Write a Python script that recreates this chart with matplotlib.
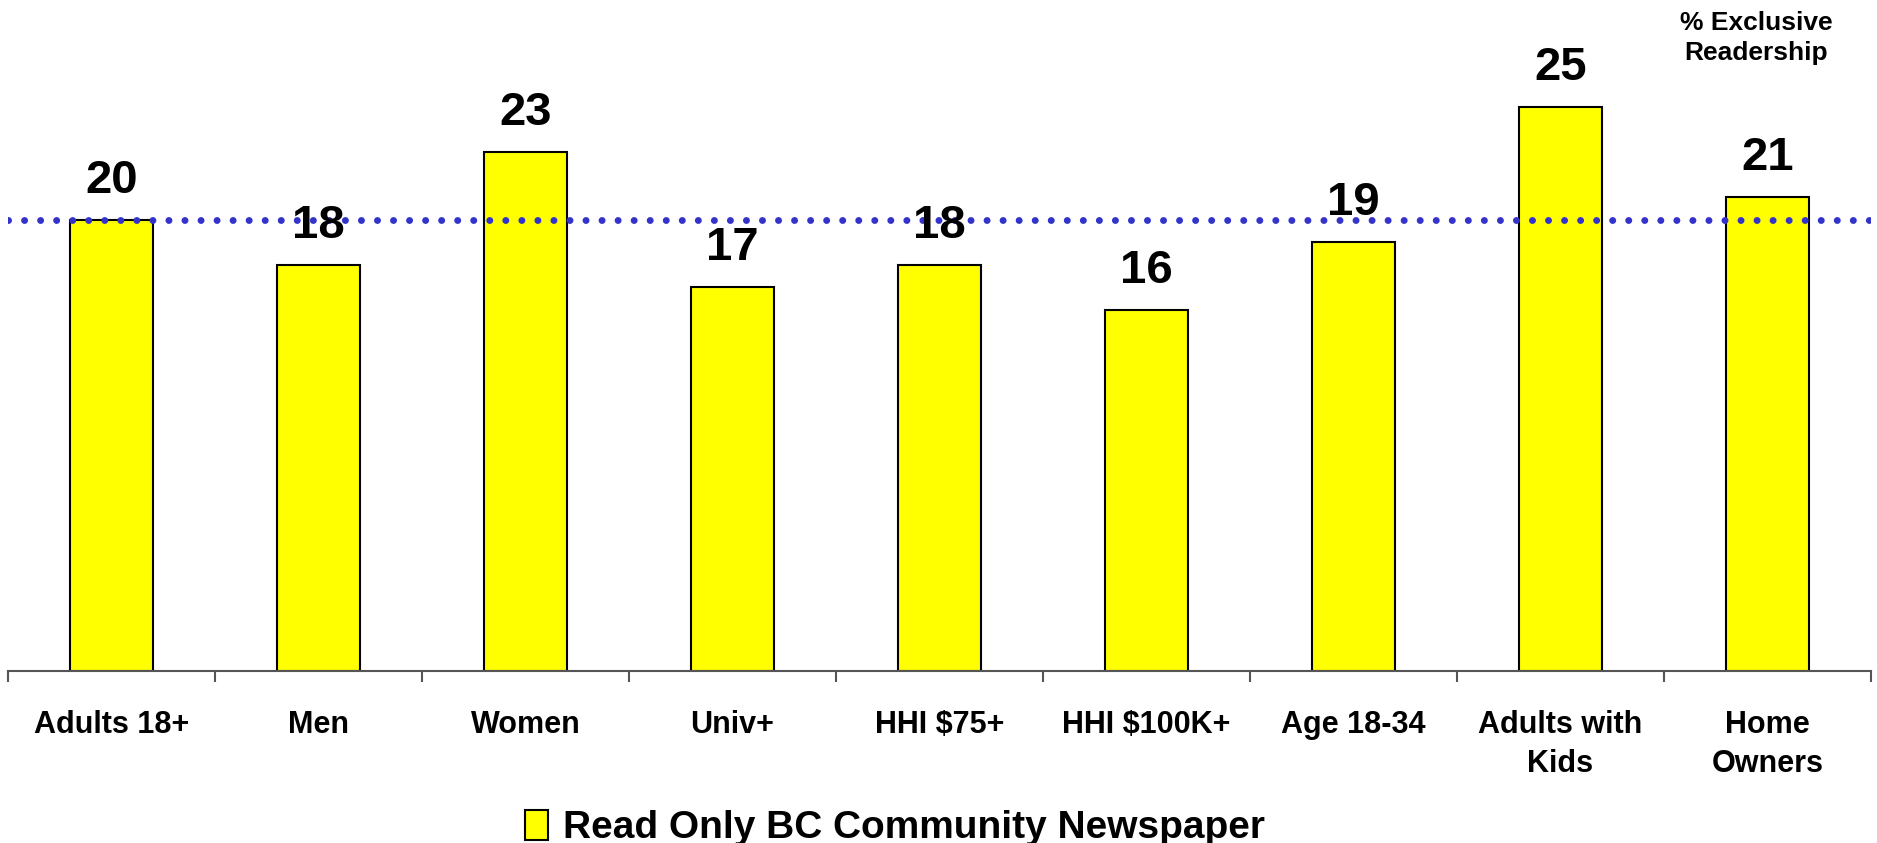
import matplotlib
matplotlib.use("Agg")
import matplotlib.pyplot as plt
from matplotlib.patches import Patch

categories = ["Adults 18+", "Men", "Women", "Univ+", "HHI $75+", "HHI $100K+",
              "Age 18-34", "Adults with\nKids", "Home\nOwners"]
values = [20, 18, 23, 17, 18, 16, 19, 25, 21]
reference_value = 20
series_name = "Read Only BC Community Newspaper"
corner_note = "% Exclusive\nReadership"

plt.rcParams['font.family'] = ['Liberation Sans', 'DejaVu Sans']
plt.rcParams['font.weight'] = 'bold'

W, H = 1877, 843
fig = plt.figure(figsize=(W / 100, H / 100), dpi=100)
ax = fig.add_axes([8 / W, (H - 671) / H, 1863 / W, 670 / H])

x = list(range(len(categories)))
ax.bar(x, values, width=0.405, color='#FFFF00', edgecolor='black', linewidth=1.5, zorder=2)
ax.set_xlim(-0.5, len(categories) - 0.5)
ax.set_ylim(0, 29.7)

for xi, v in zip(x, values):
    ax.annotate(str(v), (xi, v), xytext=(0, 19.5), textcoords='offset points',
                ha='center', va='baseline', fontsize=34, fontweight='bold', zorder=4)

ax.axhline(reference_value, color='#3333CC', linewidth=5,
           linestyle=(0, (0.01, 2.3)), dash_capstyle='round', zorder=3)

for s in ['top', 'right', 'left']:
    ax.spines[s].set_visible(False)
ax.spines['bottom'].set_color('#555555')
ax.spines['bottom'].set_linewidth(1.5)
ax.set_yticks([])
ax.set_xticks(x)
ax.set_xticklabels(categories, fontsize=22, fontweight='bold', linespacing=1.4)
ax.tick_params(axis='x', which='major', length=0, pad=28)
ax.set_xticks([i - 0.5 for i in range(len(categories) + 1)], minor=True)
ax.tick_params(axis='x', which='minor', length=8, width=1.5, color='#555555', direction='out')

fig.text(1756 / W, 1 - 38 / H, corner_note, ha='center', va='center',
         fontsize=19, fontweight='bold', linespacing=1.3)

handle = Patch(facecolor='#FFFF00', edgecolor='black', linewidth=1.5)
fig.legend([handle], [series_name], loc='center', bbox_to_anchor=(895 / W, 15 / H),
           frameon=False, handlelength=0.6, handleheight=0.8,
           handletextpad=0.4, borderpad=0, prop={'weight': 'bold', 'size': 28})

fig.savefig('out.png', dpi=100)
